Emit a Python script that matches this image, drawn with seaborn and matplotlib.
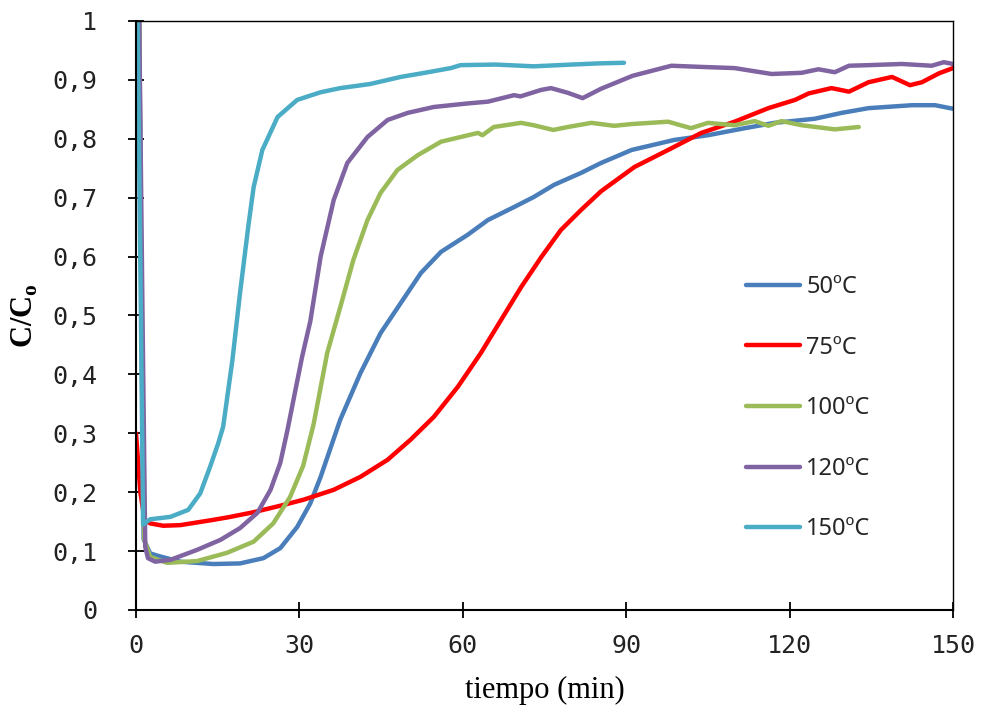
import numpy as np
import pandas as pd
import matplotlib
matplotlib.use("Agg")
import matplotlib.pyplot as plt
import seaborn as sns

# Breakthrough curves C/Co vs time at five temperatures
t_50 = [0.6, 1.0, 1.4, 2.6, 4.4, 8.1, 14.2, 19.1, 23.4, 26.5, 29.6, 32, 33.9, 37.5, 41.2, 44.9,
        48.6, 52.3, 56, 60.9, 64.6, 69.4, 73, 76.8, 81.7, 85.4, 91, 98.8, 105, 111.2, 117.2,
        124.6, 129.6, 134.5, 142.5, 146.7, 150]
c_50 = [1.0, 0.5, 0.12, 0.096, 0.091, 0.082, 0.078, 0.079, 0.088, 0.105, 0.141, 0.181, 0.226,
        0.323, 0.402, 0.47, 0.521, 0.572, 0.608, 0.637, 0.662, 0.684, 0.701, 0.722, 0.742,
        0.759, 0.781, 0.798, 0.806, 0.817, 0.827, 0.834, 0.844, 0.852, 0.857, 0.857, 0.851]

t_75 = [0, 0.8, 1.6, 2.6, 5, 8.1, 14.2, 17.3, 21.6, 26.5, 30.7, 36.3, 41.2, 46.2, 50.4, 54.7,
        59.1, 63.3, 67, 70.7, 74.4, 78, 81.7, 85.4, 91.5, 97.7, 103.8, 109.9, 116.1, 121,
        123.5, 127.7, 130.9, 134.5, 138.8, 142.1, 144.3, 147.4, 150]
c_75 = [0.30, 0.2, 0.152, 0.147, 0.143, 0.144, 0.153, 0.158, 0.166, 0.177, 0.187, 0.204, 0.226,
        0.255, 0.289, 0.328, 0.379, 0.436, 0.492, 0.548, 0.599, 0.645, 0.679, 0.711, 0.752,
        0.781, 0.81, 0.829, 0.852, 0.866, 0.877, 0.886, 0.88, 0.896, 0.905, 0.891, 0.896,
        0.911, 0.92]

t_100 = [0.6, 1.0, 1.5, 2.6, 5.7, 11.2, 16.7, 21.6, 25.2, 28.3, 30.7, 32.6, 35.1, 37.5, 39.9,
         42.5, 44.9, 48, 51.7, 56, 59.6, 62.8, 63.6, 65.7, 70.7, 73, 76.6, 79.3, 83.6, 87.8,
         91, 97.7, 101.9, 105, 109.9, 113.6, 116.1, 118.5, 122.2, 128.3, 132.7]
c_100 = [1.0, 0.5, 0.12, 0.09, 0.08, 0.083, 0.097, 0.116, 0.147, 0.192, 0.245, 0.315, 0.436,
         0.514, 0.594, 0.662, 0.708, 0.747, 0.772, 0.795, 0.803, 0.81, 0.806, 0.82, 0.827,
         0.823, 0.815, 0.82, 0.827, 0.822, 0.825, 0.829, 0.818, 0.827, 0.823, 0.83, 0.822,
         0.83, 0.823, 0.816, 0.82]

t_120 = [0.6, 1.2, 1.7, 2.2, 3.5, 6.3, 11.2, 15.5, 19.1, 22.3, 24.7, 26.5, 27.8, 29.2, 30.5,
         32, 33.9, 36.3, 38.8, 42.5, 46.2, 49.9, 54.7, 60.9, 64.6, 69.4, 70.6, 74.4, 76.2,
         79.3, 82, 85.4, 91.2, 98.3, 103.8, 109.9, 116.7, 122.2, 125.3, 128.3, 130.9, 134.5,
         140.6, 146.1, 148.3, 150]
c_120 = [1.0, 0.5, 0.107, 0.088, 0.082, 0.085, 0.102, 0.119, 0.139, 0.165, 0.204, 0.25, 0.305,
         0.37, 0.43, 0.49, 0.6, 0.696, 0.759, 0.803, 0.832, 0.844, 0.854, 0.86, 0.863, 0.874,
         0.872, 0.883, 0.886, 0.878, 0.869, 0.885, 0.907, 0.924, 0.922, 0.92, 0.91, 0.912,
         0.918, 0.913, 0.924, 0.925, 0.927, 0.924, 0.93, 0.927]

t_150 = [0.3, 0.9, 1.3, 2.6, 6.3, 9.6, 11.8, 13.6, 15.1, 16, 17.7, 19.1, 20.6, 21.6, 23.2, 26,
         29.6, 33.9, 37.5, 43, 48.6, 53, 57.8, 59.6, 66, 73, 80, 85, 89.6]
c_150 = [1.0, 0.5, 0.145, 0.154, 0.158, 0.17, 0.198, 0.243, 0.283, 0.311, 0.424, 0.538, 0.65,
         0.718, 0.781, 0.837, 0.866, 0.879, 0.886, 0.893, 0.905, 0.912, 0.92, 0.925, 0.926,
         0.923, 0.926, 0.928, 0.929]

series_names = ["50ºC", "75ºC", "100ºC", "120ºC", "150ºC"]
series_t = [t_50, t_75, t_100, t_120, t_150]
series_c = [c_50, c_75, c_100, c_120, c_150]
colors = ["#4A7EBB", "#FF0000", "#9BBB59", "#8064A2", "#4BACC6"]

x_ticks = [0, 30, 60, 90, 120, 150]
y_ticks = [0, 0.1, 0.2, 0.3, 0.4, 0.5, 0.6, 0.7, 0.8, 0.9, 1.0]
y_tick_labels = ["0", "0,1", "0,2", "0,3", "0,4", "0,5", "0,6", "0,7", "0,8", "0,9", "1"]

df = pd.concat(
    [pd.DataFrame({"t": t, "c": c, "serie": n}) for n, t, c in zip(series_names, series_t, series_c)],
    ignore_index=True,
)

sns.set_style("white")
plt.rcParams["mathtext.fontset"] = "custom"
plt.rcParams["mathtext.rm"] = "Liberation Serif"
plt.rcParams["mathtext.bf"] = "Liberation Serif:bold"

fig = plt.figure(figsize=(9.84, 7.11), dpi=100)
ax = fig.add_axes([0.1382, 0.1421, 0.8303, 0.8284])

sns.lineplot(data=df, x="t", y="c", hue="serie", hue_order=series_names,
             palette=colors, estimator=None, sort=False, linewidth=3.2, ax=ax,
             legend=True)
for ln in ax.get_lines():
    ln.set_solid_capstyle("round")
    ln.set_solid_joinstyle("round")

ax.set_xlim(0, 150)
ax.set_ylim(0, 1)
ax.set_xticks(x_ticks)
ax.set_xticklabels([str(v) for v in x_ticks])
ax.set_yticks(y_ticks)
ax.set_yticklabels(y_tick_labels)

for lab in ax.get_xticklabels() + ax.get_yticklabels():
    lab.set_fontfamily("DejaVu Sans Mono")
    lab.set_fontsize(18)
    lab.set_color("#222222")

ax.tick_params(axis="both", direction="inout", length=12, width=1.3, color="black",
               bottom=True, left=True, top=False, right=False)
ax.tick_params(axis="y", pad=22)
ax.tick_params(axis="x", pad=11)

for side in ["left", "bottom"]:
    ax.spines[side].set_color("black")
    ax.spines[side].set_linewidth(1.5)
for side in ["top", "right"]:
    ax.spines[side].set_color("black")
    ax.spines[side].set_linewidth(1.0)

ax.set_xlabel("tiempo (min)", fontfamily="Liberation Serif", fontsize=22, color="black")
ax.xaxis.set_label_coords(0.5, -0.112)
ax.set_ylabel(r"C/C$_{\mathbf{o}}$", fontfamily="Liberation Serif", fontsize=22,
              fontweight="bold", color="black")
ax.yaxis.set_label_coords(-0.117, 0.5)

handles, labels = ax.get_legend_handles_labels()
leg = ax.legend(handles, labels, loc="upper left",
                bbox_to_anchor=(746 / 984, (711 - 275) / 711), bbox_transform=fig.transFigure,
                frameon=False, borderaxespad=0, borderpad=0,
                prop={"family": "Noto Sans", "size": 17},
                handlelength=2.3, handletextpad=0.25, labelspacing=1.55)
for h in leg.get_lines():
    h.set_linewidth(3.2)
    h.set_solid_capstyle("round")

fig.savefig("out.png", dpi=100)
